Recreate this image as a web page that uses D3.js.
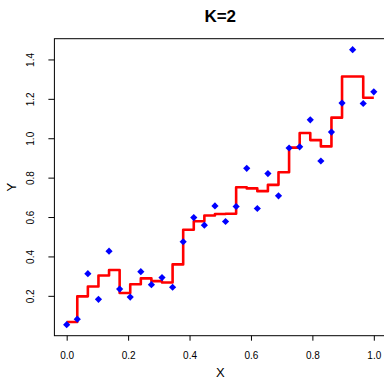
<!DOCTYPE html>
<html>
<head>
<meta charset="utf-8">
<script src="https://cdn.jsdelivr.net/npm/d3@7"></script>
<style>
  html, body { margin: 0; padding: 0; background: #fff; }
  svg { display: block; }
  text { font-family: "Liberation Sans", Arial, Helvetica, sans-serif; fill: #000; }
</style>
</head>
<body>
<svg id="chart" width="384" height="380"></svg>
<script>
// ---- data ----
const xValues = [0, 1/29, 2/29, 3/29, 4/29, 5/29, 6/29, 7/29, 8/29, 9/29,
                 10/29, 11/29, 12/29, 13/29, 14/29, 15/29, 16/29, 17/29, 18/29, 19/29,
                 20/29, 21/29, 22/29, 23/29, 24/29, 25/29, 26/29, 27/29, 28/29, 1];
const yPoints = [0.056, 0.084, 0.315, 0.185, 0.429, 0.237, 0.196, 0.325, 0.259, 0.295,
                 0.246, 0.477, 0.600, 0.561, 0.659, 0.580, 0.656, 0.850, 0.646, 0.823,
                 0.710, 0.953, 0.959, 1.096, 0.887, 1.034, 1.181, 1.452, 1.179, 1.238];
const yFit    = [0.070, 0.200, 0.250, 0.306, 0.334, 0.217, 0.261, 0.291, 0.277, 0.270,
                 0.362, 0.538, 0.581, 0.610, 0.618, 0.619, 0.754, 0.748, 0.734, 0.766,
                 0.830, 0.955, 1.029, 0.993, 0.961, 1.107, 1.316, 1.316, 1.208, 1.208];
const xTicks = [0, 0.2, 0.4, 0.6, 0.8, 1.0];
const yTicks = [0.2, 0.4, 0.6, 0.8, 1.0, 1.2, 1.4];
const titleText = "K=2";
const xLabel = "X";
const yLabel = "Y";

// ---- layout ----
const plot = { left: 54.4, right: 386.1, top: 38.7, bottom: 335.7 };
const svg = d3.select("#chart");

const xr = d3.extent(xValues), xs = xr[1] - xr[0];
const yr = d3.extent(yPoints), ys = yr[1] - yr[0];
const x = d3.scaleLinear().domain([xr[0] - 0.04 * xs, xr[1] + 0.04 * xs]).range([plot.left, plot.right]);
const y = d3.scaleLinear().domain([yr[0] - 0.04 * ys, yr[1] + 0.04 * ys]).range([plot.bottom, plot.top]);

// box
svg.append("rect")
  .attr("x", plot.left).attr("y", plot.top)
  .attr("width", plot.right - plot.left).attr("height", plot.bottom - plot.top)
  .attr("fill", "none").attr("stroke", "#000").attr("stroke-width", 1);

// x axis
const xAxis = d3.axisBottom(x).tickValues(xTicks).tickFormat(d3.format(".1f"))
  .tickSizeInner(5).tickSizeOuter(0).tickPadding(11);
const gx = svg.append("g").attr("transform", `translate(0,${plot.bottom})`).call(xAxis);
gx.select(".domain").remove();
gx.selectAll("line").attr("stroke", "#000");
gx.selectAll("text").style("font-size", "10px").attr("fill", "#222").attr("dy", "0.71em");

// y axis
const yAxis = d3.axisLeft(y).tickValues(yTicks).tickFormat(d3.format(".1f"))
  .tickSizeInner(6).tickSizeOuter(0).tickPadding(0);
const gy = svg.append("g").attr("transform", `translate(${plot.left},0)`).call(yAxis);
gy.select(".domain").remove();
gy.selectAll("line").attr("stroke", "#000");
gy.selectAll("text")
  .style("font-size", "10px").attr("fill", "#222")
  .attr("x", 0).attr("dy", 0)
  .attr("text-anchor", "middle")
  .attr("transform", d => `translate(${33.5 - plot.left},${y(d)}) rotate(-90)`)
  .attr("y", 0);
gy.selectAll(".tick").attr("transform", null);
gy.selectAll(".tick line").attr("transform", d => `translate(0,${y(d)})`);

// step line (type "s")
const fitData = xValues.map((v, i) => [v, yFit[i]]);
const line = d3.line().x(d => x(d[0])).y(d => y(d[1])).curve(d3.curveStepAfter);
svg.append("path").datum(fitData)
  .attr("d", line)
  .attr("fill", "none").attr("stroke", "#ff0000").attr("stroke-width", 2.6)
  .attr("stroke-linejoin", "round");

// points (pch 18 diamonds)
const r = 3.6;
svg.append("g").selectAll("path").data(xValues.map((v, i) => [v, yPoints[i]]))
  .join("path")
  .attr("d", d => `M${x(d[0])},${y(d[1]) - r}L${x(d[0]) + r},${y(d[1])}L${x(d[0])},${y(d[1]) + r}L${x(d[0]) - r},${y(d[1])}Z`)
  .attr("fill", "#0000ff");

// title and labels
svg.append("text").attr("x", (plot.left + plot.right) / 2).attr("y", 22)
  .attr("text-anchor", "middle").style("font-size", "17px").style("font-weight", "bold")
  .text(titleText);
svg.append("text").attr("x", (plot.left + plot.right) / 2).attr("y", 377)
  .attr("text-anchor", "middle").style("font-size", "13px").attr("fill", "#222")
  .text(xLabel);
svg.append("text").attr("transform", `translate(16,${(plot.top + plot.bottom) / 2}) rotate(-90)`)
  .attr("text-anchor", "middle").style("font-size", "13px").attr("fill", "#222")
  .text(yLabel);
</script>
</body>
</html>
